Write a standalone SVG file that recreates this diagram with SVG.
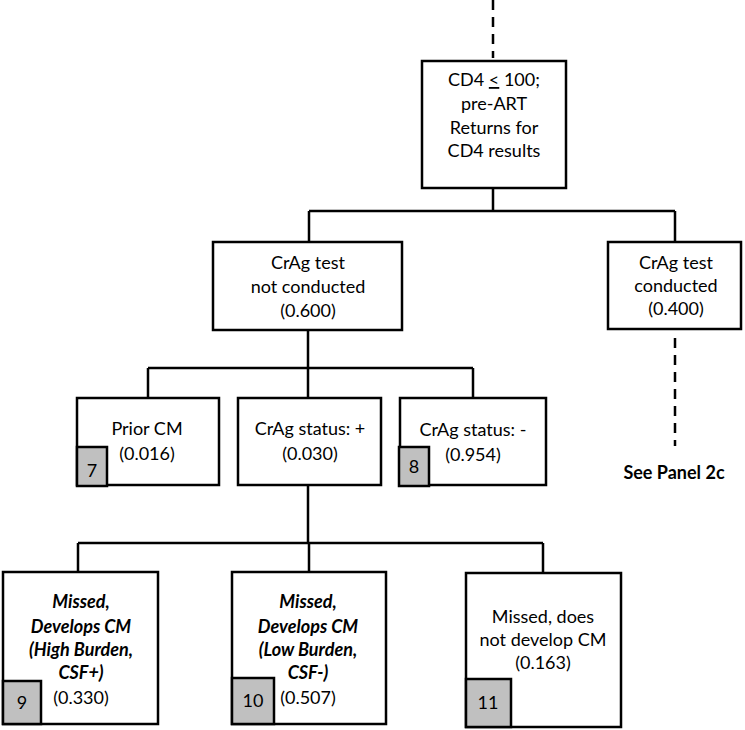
<svg xmlns="http://www.w3.org/2000/svg" width="745" height="730" viewBox="0 0 745 730">
<style>
.box{fill:#fff;stroke:#000;stroke-width:2.5}
.badge{fill:#c0c0c0;stroke:#000;stroke-width:2.5}
.ln{fill:none;stroke:#000;stroke-width:2.5}
.dash{fill:none;stroke:#000;stroke-width:2.5;stroke-dasharray:10 7}
text{font-family:Lato,"Liberation Sans",sans-serif;font-size:18px;fill:#000;text-anchor:middle}
.bi{font-weight:bold;font-style:italic}
.b{font-weight:bold}
</style>
<rect width="745" height="730" fill="#fff"/>
<g id="connectors">
<path class="dash" d="M493,0 V58"/>
<path class="ln" d="M493,188 V211 M309,211 H675 M309,211 V242 M675,211 V242"/>
<path class="ln" d="M308,330 V368 M148,368 H473 M148,368 V398 M308,368 V398 M473,368 V398"/>
<path class="dash" d="M675,338 V446"/>
<path class="ln" d="M308,485 V543 M78,543 H543 M78,543 V572 M309,543 V572 M543,543 V573"/>
</g>
<g id="n-root">
<rect class="box" x="422" y="61" width="144" height="127"/>
<text x="494" y="86">CD4 <tspan text-decoration="underline">&lt;</tspan> 100;</text>
<text x="494" y="110">pre-ART</text>
<text x="494" y="134">Returns for</text>
<text x="494" y="157">CD4 results</text>
</g>
<g id="n-notconducted">
<rect class="box" x="213" y="242" width="189" height="88"/>
<text x="308" y="269">CrAg test</text>
<text x="308" y="293">not conducted</text>
<text x="308" y="317">(0.600)</text>
</g>
<g id="n-conducted">
<rect class="box" x="608" y="242" width="133" height="87"/>
<text x="676" y="269">CrAg test</text>
<text x="676" y="292">conducted</text>
<text x="676" y="315">(0.400)</text>
</g>
<g id="n-panel2c">
<text class="b" x="674" y="479">See Panel 2c</text>
</g>
<g id="n-priorcm">
<rect class="box" x="77" y="398" width="142" height="87"/>
<text x="147" y="435">Prior CM</text>
<text x="147" y="460">(0.016)</text>
<rect class="badge" x="77" y="447" width="30" height="39"/>
<text x="92" y="477">7</text>
</g>
<g id="n-pos">
<rect class="box" x="238" y="398" width="143" height="87"/>
<text x="310" y="435">CrAg status: +</text>
<text x="310" y="460">(0.030)</text>
</g>
<g id="n-neg">
<rect class="box" x="400" y="398" width="146" height="87"/>
<text x="473" y="436">CrAg status: -</text>
<text x="473" y="461">(0.954)</text>
<rect class="badge" x="399" y="447" width="30" height="39"/>
<text x="414" y="473">8</text>
</g>
<g id="n-high">
<rect class="box" x="3" y="572" width="155" height="152"/>
<text class="bi" x="81" y="608">Missed,</text>
<text class="bi" x="81" y="633">Develops CM</text>
<text class="bi" x="81" y="656">(High Burden,</text>
<text class="bi" x="81" y="679">CSF+)</text>
<text x="81" y="704">(0.330)</text>
<rect class="badge" x="3" y="681" width="38" height="43"/>
<text x="22" y="709">9</text>
</g>
<g id="n-low">
<rect class="box" x="232" y="572" width="154" height="152"/>
<text class="bi" x="308" y="608">Missed,</text>
<text class="bi" x="308" y="633">Develops CM</text>
<text class="bi" x="308" y="656">(Low Burden,</text>
<text class="bi" x="308" y="679">CSF-)</text>
<text x="308" y="704">(0.507)</text>
<rect class="badge" x="232" y="678" width="42" height="46"/>
<text x="253" y="707">10</text>
</g>
<g id="n-nodev">
<rect class="box" x="466" y="573" width="155" height="154"/>
<text x="543" y="623">Missed, does</text>
<text x="543" y="646">not develop CM</text>
<text x="543" y="669">(0.163)</text>
<rect class="badge" x="466" y="679" width="45" height="48"/>
<text x="488" y="709">11</text>
</g>
</svg>
